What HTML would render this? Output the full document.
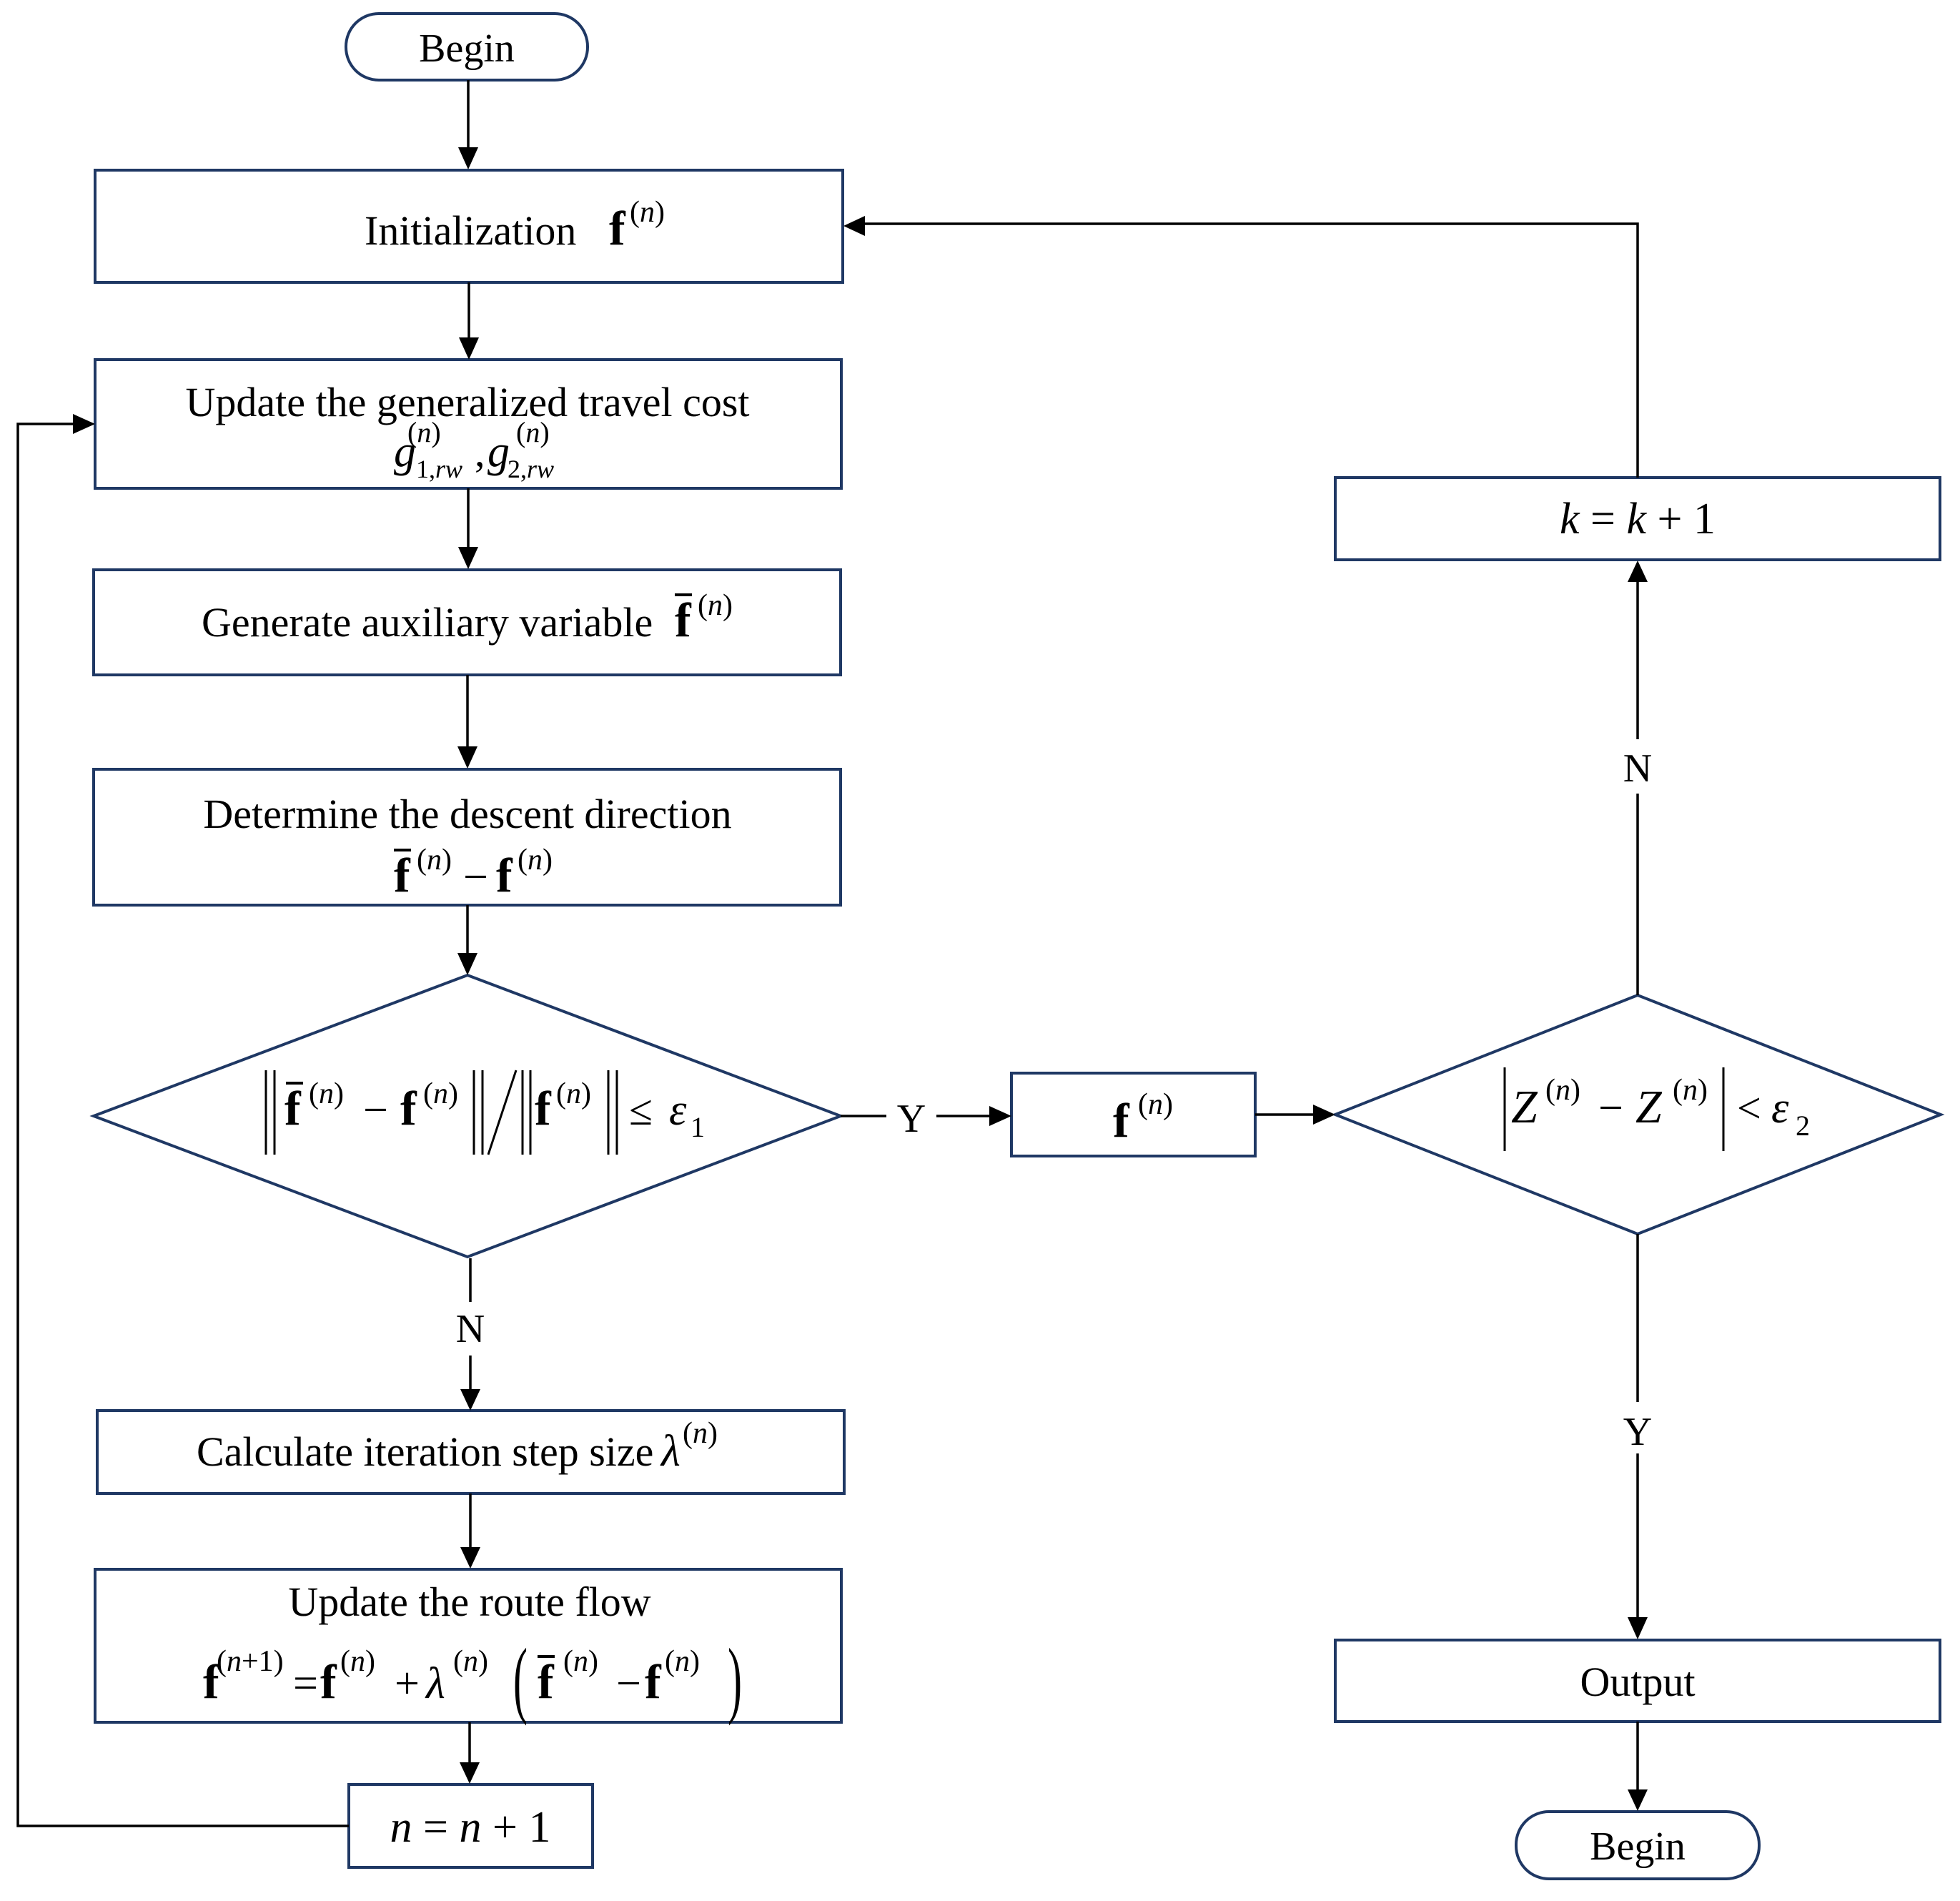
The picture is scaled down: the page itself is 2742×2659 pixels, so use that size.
<!DOCTYPE html>
<html><head><meta charset="utf-8"><style>
html,body{margin:0;padding:0;background:#fff}
svg{display:block}
text{font-family:"Liberation Serif","DejaVu Serif",serif;fill:#000}
.b{font-weight:bold}
.i{font-style:italic}
</style></head><body>
<svg width="2742" height="2659" viewBox="0 0 2742 2659" xmlns="http://www.w3.org/2000/svg">
<g fill="#fff" stroke="#1f3864" stroke-width="4">
<rect x="484" y="19" width="338" height="93" rx="46"/>
<rect x="133" y="238" width="1046" height="157"/>
<rect x="133" y="503" width="1044" height="180"/>
<rect x="131" y="797" width="1045" height="147"/>
<rect x="131" y="1076" width="1045" height="190"/>
<polygon points="131,1561 654,1364 1176,1561 654,1758"/>
<rect x="136" y="1973" width="1045" height="116"/>
<rect x="133" y="2195" width="1044" height="214"/>
<rect x="488" y="2496" width="341" height="116"/>
<rect x="1415" y="1501" width="341" height="116"/>
<polygon points="1868,1559 2291,1392 2715,1559 2291,1726"/>
<rect x="1868" y="668" width="846" height="115"/>
<rect x="1868" y="2294" width="846" height="114"/>
<rect x="2121" y="2534" width="340" height="94" rx="46"/>
</g>
<g stroke="#000" stroke-width="3.5" fill="none">
<path d="M655,112 V206"/>
<path d="M656,395 V472"/>
<path d="M655,683 V765"/>
<path d="M654,944 V1044"/>
<path d="M654,1266 V1333"/>
<path d="M658,1760 V1821"/>
<path d="M658,1896 V1943"/>
<path d="M658,2089 V2164"/>
<path d="M657,2409 V2465"/>
<path d="M488,2554 H25 V593 H102"/>
<path d="M1176,1561 H1240"/>
<path d="M1310,1561 H1384"/>
<path d="M1756,1559 H1837"/>
<path d="M2291,1392 V1110"/>
<path d="M2291,1034 V814"/>
<path d="M2291,668 V313 H1210"/>
<path d="M2291,1726 V1961"/>
<path d="M2291,2033 V2262"/>
<path d="M2291,2408 V2503"/>
</g>
<g fill="#000">
<polygon points="641,206 669,206 655,237"/>
<polygon points="642,472 670,472 656,503"/>
<polygon points="641,765 669,765 655,796"/>
<polygon points="640,1044 668,1044 654,1075"/>
<polygon points="640,1333 668,1333 654,1364"/>
<polygon points="644,1943 672,1943 658,1973"/>
<polygon points="644,2164 672,2164 658,2194"/>
<polygon points="643,2465 671,2465 657,2495"/>
<polygon points="102,579 102,607 133,593"/>
<polygon points="1384,1547 1384,1575 1415,1561"/>
<polygon points="1837,1545 1837,1573 1868,1559"/>
<polygon points="2277,814 2305,814 2291,784"/>
<polygon points="1210,302 1210,330 1180,316"/>
<polygon points="2277,2262 2305,2262 2291,2293"/>
<polygon points="2277,2503 2305,2503 2291,2533"/>
</g>
<text x="653" y="86" font-size="56" text-anchor="middle">Begin</text>
<text x="510" y="342" font-size="58">Initialization</text>
<text x="852" y="342" font-size="68" class="b">f</text>
<text x="881" y="310" font-size="42">(<tspan class="i">n</tspan>)</text>
<text x="654" y="582" font-size="58" text-anchor="middle">Update the generalized travel cost</text>
<text x="551" y="652" font-size="62" class="i">g</text>
<text x="570" y="618" font-size="40">(<tspan class="i">n</tspan>)</text>
<text x="582" y="668" font-size="36">1,<tspan class="i">rw</tspan></text>
<text x="664" y="652" font-size="58">,</text>
<text x="682" y="652" font-size="62" class="i">g</text>
<text x="722" y="618" font-size="40">(<tspan class="i">n</tspan>)</text>
<text x="710" y="668" font-size="36">2,<tspan class="i">rw</tspan></text>
<text x="282" y="890" font-size="58">Generate auxiliary variable</text>
<text x="944" y="890" font-size="68" class="b">f</text>
<line x1="944" y1="832" x2="968" y2="832" stroke="#000" stroke-width="4"/>
<text x="976" y="860" font-size="42">(<tspan class="i">n</tspan>)</text>
<text x="654" y="1158" font-size="58" text-anchor="middle">Determine the descent direction</text>
<text x="551" y="1247" font-size="68" class="b">f</text>
<line x1="551" y1="1189" x2="575" y2="1189" stroke="#000" stroke-width="4"/>
<text x="583" y="1216" font-size="42">(<tspan class="i">n</tspan>)</text>
<text x="648" y="1247" font-size="62">−</text>
<text x="694" y="1247" font-size="68" class="b">f</text>
<text x="724" y="1216" font-size="42">(<tspan class="i">n</tspan>)</text>
<g stroke="#000" stroke-width="3">
<line x1="372" y1="1497" x2="372" y2="1615"/><line x1="384" y1="1497" x2="384" y2="1615"/>
<line x1="663" y1="1497" x2="663" y2="1615"/><line x1="675" y1="1497" x2="675" y2="1615"/>
<line x1="683" y1="1615" x2="722" y2="1497"/>
<line x1="731" y1="1497" x2="731" y2="1615"/><line x1="742" y1="1497" x2="742" y2="1615"/>
<line x1="851" y1="1497" x2="851" y2="1615"/><line x1="863" y1="1497" x2="863" y2="1615"/>
<line x1="400" y1="1515" x2="424" y2="1515" stroke-width="4"/>
</g>
<text x="398" y="1573" font-size="68" class="b">f</text>
<text x="432" y="1543" font-size="42">(<tspan class="i">n</tspan>)</text>
<text x="508" y="1573" font-size="62">−</text>
<text x="560" y="1573" font-size="68" class="b">f</text>
<text x="592" y="1543" font-size="42">(<tspan class="i">n</tspan>)</text>
<text x="748" y="1573" font-size="68" class="b">f</text>
<text x="778" y="1543" font-size="42">(<tspan class="i">n</tspan>)</text>
<text x="880" y="1573" font-size="60">≤</text>
<text x="936" y="1573" font-size="62" class="i">ε</text>
<text x="966" y="1590" font-size="40">1</text>
<text x="1275" y="1583" font-size="56" text-anchor="middle">Y</text>
<text x="658" y="1877" font-size="56" text-anchor="middle">N</text>
<text x="2291" y="1093" font-size="56" text-anchor="middle">N</text>
<text x="2291" y="2021" font-size="56" text-anchor="middle">Y</text>
<text x="275" y="2050" font-size="58">Calculate iteration step size</text>
<text x="925" y="2050" font-size="62" class="i">λ</text>
<text x="955" y="2018" font-size="42">(<tspan class="i">n</tspan>)</text>
<text x="657" y="2260" font-size="58" text-anchor="middle">Update the route flow</text>
<text x="284" y="2375" font-size="68" class="b">f</text>
<text x="303" y="2337" font-size="42">(<tspan class="i">n</tspan>+1)</text>
<text x="410" y="2375" font-size="62">=</text>
<text x="448" y="2375" font-size="68" class="b">f</text>
<text x="476" y="2337" font-size="42">(<tspan class="i">n</tspan>)</text>
<text x="552" y="2375" font-size="62">+</text>
<text x="596" y="2375" font-size="62" class="i">λ</text>
<text x="634" y="2337" font-size="42">(<tspan class="i">n</tspan>)</text>
<text x="718" y="2388" font-size="100" transform="translate(718,2388) scale(0.6,1.2) translate(-718,-2388)">(</text>
<text x="752" y="2375" font-size="68" class="b">f</text>
<line x1="752" y1="2317" x2="776" y2="2317" stroke="#000" stroke-width="4"/>
<text x="788" y="2337" font-size="42">(<tspan class="i">n</tspan>)</text>
<text x="862" y="2375" font-size="62">−</text>
<text x="902" y="2375" font-size="68" class="b">f</text>
<text x="930" y="2337" font-size="42">(<tspan class="i">n</tspan>)</text>
<text x="1018" y="2388" font-size="100" transform="translate(1018,2388) scale(0.6,1.2) translate(-1018,-2388)">)</text>
<text x="658" y="2576" font-size="62" text-anchor="middle"><tspan class="i">n</tspan> = <tspan class="i">n</tspan> + 1</text>
<text x="1557" y="1590" font-size="68" class="b">f</text>
<text x="1592" y="1558" font-size="42">(<tspan class="i">n</tspan>)</text>
<g stroke="#000" stroke-width="3">
<line x1="2105" y1="1493" x2="2105" y2="1610"/>
<line x1="2411" y1="1493" x2="2411" y2="1610"/>
</g>
<text x="2114" y="1570" font-size="66" class="i">Z</text>
<text x="2162" y="1538" font-size="42">(<tspan class="i">n</tspan>)</text>
<text x="2236" y="1570" font-size="62">−</text>
<text x="2288" y="1570" font-size="66" class="i">Z</text>
<text x="2340" y="1538" font-size="42">(<tspan class="i">n</tspan>)</text>
<text x="2430" y="1570" font-size="60">&lt;</text>
<text x="2478" y="1570" font-size="62" class="i">ε</text>
<text x="2512" y="1588" font-size="40">2</text>
<text x="2291" y="746" font-size="62" text-anchor="middle"><tspan class="i">k</tspan> = <tspan class="i">k</tspan> + 1</text>
<text x="2291" y="2372" font-size="58" text-anchor="middle">Output</text>
<text x="2291" y="2601" font-size="56" text-anchor="middle">Begin</text>
</svg>
</body></html>
